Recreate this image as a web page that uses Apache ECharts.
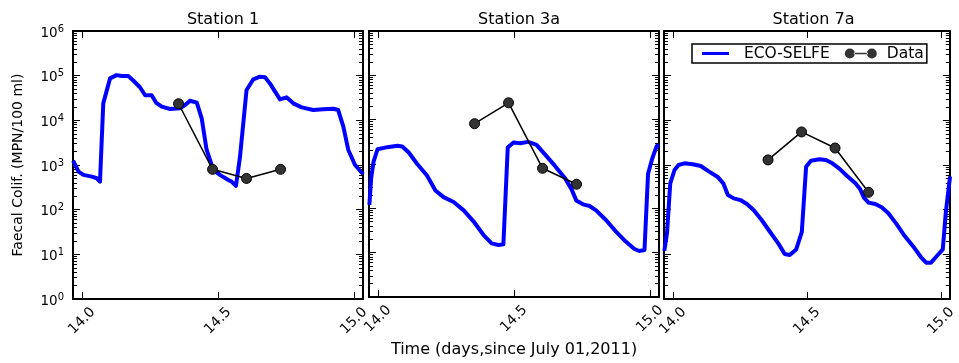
<!DOCTYPE html>
<html>
<head>
<meta charset="utf-8">
<script src="https://cdn.jsdelivr.net/npm/echarts@6/dist/echarts.min.js"></script>
<style>
html,body{margin:0;padding:0;background:#fff;}
#chart{width:959px;height:363px;}
</style>
</head>
<body>
<div id="chart"></div>
<script>
// ---------------- data ----------------
const stationNames = ['Station 1', 'Station 3a', 'Station 7a'];

const st1ModelTime = [13.967, 13.987, 14.005, 14.036, 14.054, 14.066, 14.078, 14.103, 14.127, 14.146, 14.170, 14.189, 14.213, 14.232, 14.256, 14.272, 14.293, 14.324, 14.360, 14.379, 14.397, 14.422, 14.440, 14.458, 14.483, 14.507, 14.538, 14.550, 14.566, 14.581, 14.605, 14.630, 14.654, 14.673, 14.691, 14.710, 14.728, 14.752, 14.777, 14.808, 14.850, 14.887, 14.924, 14.942, 14.961, 14.979, 15.004, 15.034];
const st1ModelValue = [1250, 710, 600, 550, 505, 425, 24000, 87000, 103000, 98000, 98000, 77000, 55000, 36500, 36500, 25000, 20200, 17900, 18600, 22000, 27500, 25000, 11100, 2200, 780, 600, 460, 425, 340, 1540, 47800, 83000, 95000, 92000, 67000, 44000, 29500, 32700, 24000, 19500, 17000, 17600, 18200, 17000, 7200, 2200, 1000, 620];

const st3aModelTime = [13.968, 13.975, 13.983, 13.998, 14.034, 14.071, 14.089, 14.113, 14.144, 14.180, 14.211, 14.241, 14.278, 14.315, 14.351, 14.388, 14.418, 14.443, 14.461, 14.477, 14.498, 14.522, 14.552, 14.583, 14.613, 14.650, 14.687, 14.711, 14.729, 14.754, 14.778, 14.802, 14.839, 14.876, 14.912, 14.943, 14.961, 14.980, 14.993, 15.008, 15.025, 15.034];
const st3aModelValue = [120, 500, 1100, 2150, 2400, 2570, 2490, 1820, 1000, 550, 253, 179, 139, 90, 51, 25, 16.2, 14.9, 15.4, 2360, 3050, 2950, 3160, 2710, 1670, 918, 486, 275, 151, 123, 113, 90, 54, 29.5, 17.6, 12.1, 10.9, 11.5, 600, 1300, 2570, 2650];

const st7aModelTime = [13.968, 13.978, 13.990, 14.006, 14.021, 14.043, 14.074, 14.104, 14.135, 14.166, 14.188, 14.205, 14.227, 14.252, 14.276, 14.301, 14.331, 14.362, 14.393, 14.417, 14.436, 14.460, 14.481, 14.497, 14.515, 14.546, 14.571, 14.595, 14.620, 14.650, 14.681, 14.699, 14.712, 14.730, 14.755, 14.779, 14.804, 14.834, 14.865, 14.902, 14.926, 14.945, 14.963, 14.985, 15.007, 15.018, 15.034];
const st7aModelValue = [12, 30, 390, 773, 1000, 1090, 1035, 950, 710, 548, 389, 213, 179, 164, 134, 98, 58.7, 32, 17.6, 10.2, 9.7, 12.9, 32, 918, 1250, 1340, 1290, 1090, 842, 568, 389, 285, 189, 144, 134, 113, 83, 48, 25.7, 13.6, 8.6, 6.5, 6.5, 9.2, 12.9, 83, 550];

const dataTime = [14.355, 14.480, 14.605, 14.730];
const st1Data = [23500, 800, 500, 800];
const st3aData = [8100, 24000, 800, 350];
const st7aData = [1300, 5500, 2400, 245];

const xTickValues = [14.0, 14.5, 15.0];
const yTickValues = [1, 10, 100, 1000, 10000, 100000, 1000000];

const xMin = 13.9667, xMax = 15.0333;

// ---------------- build ----------------
const modelTimes = [st1ModelTime, st3aModelTime, st7aModelTime];
const modelValues = [st1ModelValue, st3aModelValue, st7aModelValue];
const obsValues = [st1Data, st3aData, st7aData];

const yMinorTicks = [];
for (let k = 0; k < 6; k++) for (let m = 2; m <= 9; m++) yMinorTicks.push(m * Math.pow(10, k));

const zip = (a, b) => a.map((v, i) => [v, b[i]]);

const gridBoxes = [{left: 73, width: 290}, {left: 369, width: 290}, {left: 664, width: 289}];
const BLACK = '#000000';
const FONT = 'DejaVu Sans';

const grids = [], xAxes = [], yAxes = [], series = [], titles = [];

gridBoxes.forEach((g, i) => {
  grids.push({left: g.left, width: g.width, top: 31, height: 268, containLabel: false});
  titles.push({
    text: stationNames[i], left: g.left + g.width / 2, top: 7, textAlign: 'center',
    textStyle: {fontFamily: FONT, fontSize: 16, fontWeight: 'normal', color: BLACK}
  });
  const lineStyle = {color: BLACK, width: 2};
  // bottom x
  xAxes.push({
    gridIndex: i, type: 'value', min: xMin, max: xMax, position: 'bottom',
    axisLine: {show: true, onZero: false, lineStyle},
    axisTick: {show: true, inside: true, length: 7, customValues: xTickValues, lineStyle: {color: BLACK, width: 1}},
    axisLabel: {show: true, customValues: xTickValues, rotate: 45, align: 'center', verticalAlign: 'middle', margin: 22,
      fontFamily: FONT, fontSize: 14, color: BLACK, formatter: v => Number(v).toFixed(1)},
    splitLine: {show: false},
    name: i === 1 ? 'Time (days,since July 01,2011)' : '',
    nameLocation: 'middle', nameGap: 43,
    nameTextStyle: {fontFamily: FONT, fontSize: 16, color: BLACK}
  });
  // top x
  xAxes.push({
    gridIndex: i, type: 'value', min: xMin, max: xMax, position: 'top',
    axisLine: {show: true, onZero: false, lineStyle},
    axisTick: {show: true, inside: true, length: 7, customValues: xTickValues, lineStyle: {color: BLACK, width: 1}},
    axisLabel: {show: false}, splitLine: {show: false}
  });
  const logBase = {gridIndex: i, type: 'log', logBase: 10, min: 1, max: 1000000, splitLine: {show: false}, minorTick: {show: false}};
  // left major
  yAxes.push(Object.assign({}, logBase, {
    position: 'left',
    axisLine: {show: true, onZero: false, lineStyle},
    axisTick: {show: true, inside: true, length: 7, customValues: yTickValues, lineStyle: {color: BLACK, width: 1}},
    axisLabel: {
      show: i === 0, customValues: yTickValues, margin: 9,
      formatter: v => '{b|10}{s|' + Math.round(Math.log10(v)) + '}',
      rich: {
        b: {fontFamily: FONT, fontSize: 13.5, color: BLACK, padding: [4, 0, 0, 0]},
        s: {fontFamily: FONT, fontSize: 10, color: BLACK, padding: [0, 0, 4, 0]}
      }
    },
    name: i === 0 ? 'Faecal Colif. (MPN/100 ml)' : '',
    nameLocation: 'middle', nameGap: 48,
    nameTextStyle: {fontFamily: FONT, fontSize: 14, color: BLACK}
  }));
  // left minor
  yAxes.push(Object.assign({}, logBase, {
    position: 'left',
    axisLine: {show: false},
    axisTick: {show: true, inside: true, length: 4, customValues: yMinorTicks, lineStyle: {color: BLACK, width: 1}},
    axisLabel: {show: false}
  }));
  // right major
  yAxes.push(Object.assign({}, logBase, {
    position: 'right',
    axisLine: {show: true, onZero: false, lineStyle},
    axisTick: {show: true, inside: true, length: 7, customValues: yTickValues, lineStyle: {color: BLACK, width: 1}},
    axisLabel: {show: false}
  }));
  // right minor
  yAxes.push(Object.assign({}, logBase, {
    position: 'right',
    axisLine: {show: false},
    axisTick: {show: true, inside: true, length: 4, customValues: yMinorTicks, lineStyle: {color: BLACK, width: 1}},
    axisLabel: {show: false}
  }));

  series.push({
    name: 'ECO-SELFE', type: 'line', xAxisIndex: i * 2, yAxisIndex: i * 4,
    data: zip(modelTimes[i], modelValues[i]),
    symbol: 'none', showSymbol: false, color: '#0000ff',
    lineStyle: {color: '#0000ff', width: 4, join: 'round'}, z: 2, clip: true
  });
  series.push({
    name: 'Data', type: 'line', xAxisIndex: i * 2, yAxisIndex: i * 4,
    data: zip(dataTime, obsValues[i]),
    symbol: 'circle', symbolSize: 10, color: '#333333',
    itemStyle: {color: '#333333', borderColor: BLACK, borderWidth: 1},
    lineStyle: {color: BLACK, width: 1.5}, z: 3, clip: false
  });
});

const chart = echarts.init(document.getElementById('chart'), null, {renderer: 'canvas'});
chart.setOption({
  animation: false,
  backgroundColor: '#ffffff',
  textStyle: {fontFamily: FONT},
  title: titles,
  grid: grids,
  xAxis: xAxes,
  yAxis: yAxes,
  legend: {
    left: 692, top: 44, orient: 'horizontal',
    padding: [1.5, 3, 1.5, 10], itemGap: 15,
    itemWidth: 32, itemHeight: 10,
    borderColor: BLACK, borderWidth: 1.5, backgroundColor: '#ffffff',
    selectedMode: false,
    textStyle: {fontFamily: FONT, fontSize: 15.5, color: BLACK, padding: [0, 0, 0, 5]},
    data: [
      {name: 'ECO-SELFE', icon: 'path://M0,0M32,10M0,3.5h27v3h-27z', itemStyle: {color: '#0000ff', borderWidth: 0}},
      {name: 'Data', icon: 'path://M0,5a5,5 0 1,0 10,0a5,5 0 1,0 -10,0z M22,5a5,5 0 1,0 10,0a5,5 0 1,0 -10,0z M9,4.3h14v1.4h-14z', itemStyle: {color: '#333333', borderWidth: 0}}
    ]
  },
  series: series
});
</script>
</body>
</html>
